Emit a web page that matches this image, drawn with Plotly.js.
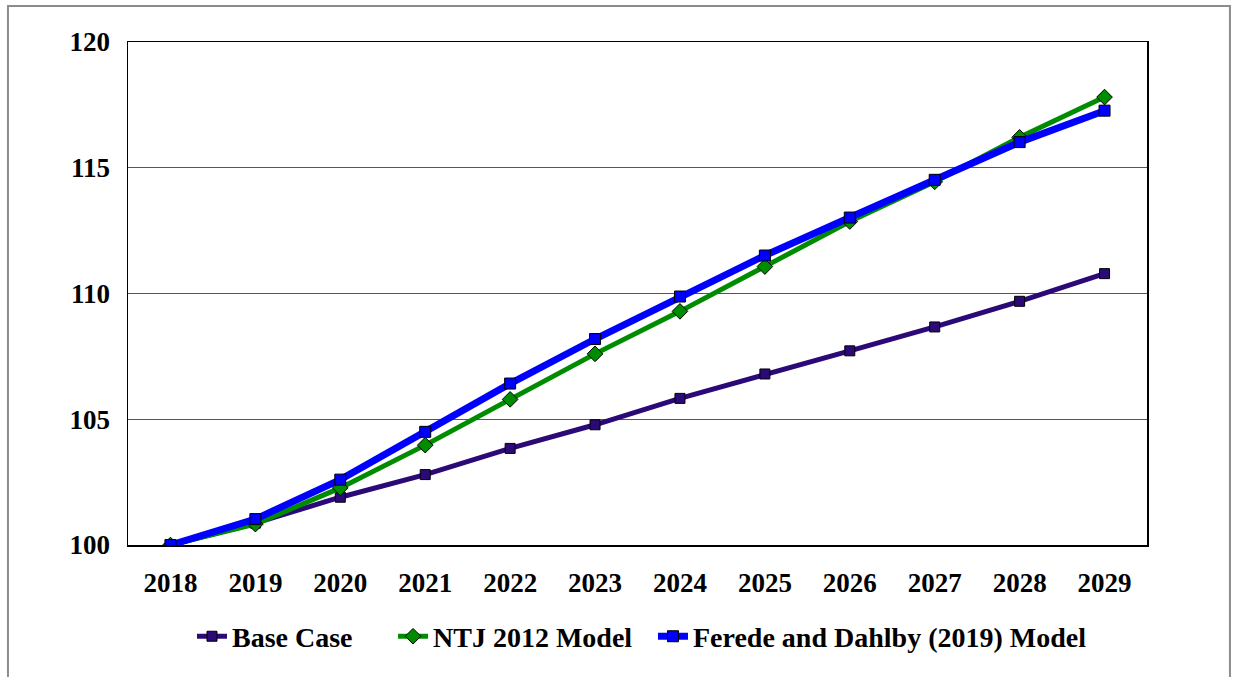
<!DOCTYPE html>
<html>
<head>
<meta charset="utf-8">
<script src="https://cdn.plot.ly/plotly-3.0.1.min.js"></script>
<style>
  html, body { margin: 0; padding: 0; background: #ffffff; }
  #chart { width: 1233px; height: 677px; }
</style>
</head>
<body>
<div id="chart"></div>
<script>
const years = ['2018','2019','2020','2021','2022','2023','2024','2025','2026','2027','2028','2029'];
const baseCase = [100, 100.87, 101.9, 102.8, 103.84, 104.78, 105.83, 106.8, 107.72, 108.67, 109.69, 110.79];
const ntj2012 = [100, 100.83, 102.27, 103.97, 105.79, 107.6, 109.29, 111.07, 112.86, 114.44, 116.21, 117.81];
const ferede2019 = [100, 101.03, 102.6, 104.5, 106.42, 108.19, 109.88, 111.51, 113.02, 114.52, 116.02, 117.27];
const yTicks = [100, 105, 110, 115, 120];

const fontFam = '"Liberation Serif", "Times New Roman", serif';
const legFont = { family: fontFam, size: 28, color: '#000000', weight: 'bold' };

const traces = [
  {
    x: years, y: baseCase, name: 'Base Case', type: 'scatter', mode: 'lines+markers', legend: 'legend',
    line: { color: '#2B0A78', width: 5 },
    marker: { symbol: 'square', size: 10, color: '#2B0A78', line: { color: '#000000', width: 1 } }
  },
  {
    x: years, y: ntj2012, name: 'NTJ 2012 Model', type: 'scatter', mode: 'lines+markers', legend: 'legend2',
    line: { color: '#008C00', width: 5 },
    marker: { symbol: 'diamond', size: 12, color: '#008C00', line: { color: '#000000', width: 1 } }
  },
  {
    x: years, y: ferede2019, name: 'Ferede and Dahlby (2019) Model', type: 'scatter', mode: 'lines+markers', legend: 'legend3',
    line: { color: '#0000FF', width: 7 },
    marker: { symbol: 'square', size: 11, color: '#0000FF', line: { color: '#000000', width: 1 } }
  }
];

function leg(x) {
  return { orientation: 'h', x: x, xanchor: 'left', y: -0.182, yanchor: 'middle', font: legFont, bgcolor: 'rgba(0,0,0,0)' };
}

const layout = {
  width: 1233, height: 677,
  margin: { l: 128, r: 86, t: 42, b: 132 },
  paper_bgcolor: '#ffffff', plot_bgcolor: '#ffffff',
  font: { family: fontFam, size: 27, color: '#000000', weight: 'bold' },
  showlegend: true,
  legend: leg(0.0628),
  legend2: leg(0.2601),
  legend3: leg(0.5152),
  xaxis: {
    type: 'category', range: [-0.5, 11.5],
    showgrid: false, zeroline: false,
    showline: true, linecolor: '#000000', linewidth: 1.5, mirror: true,
    ticks: '', ticklabelstandoff: 13,
    tickfont: { family: fontFam, size: 27, color: '#000000', weight: 'bold' }
  },
  yaxis: {
    range: [100, 120], tickvals: yTicks, ticktext: yTicks.map(String),
    showgrid: true, gridcolor: '#555555', gridwidth: 1,
    zeroline: false, showline: true, linecolor: '#000000', linewidth: 1.5, mirror: true,
    ticks: '', ticklabelstandoff: 11,
    tickfont: { family: fontFam, size: 27, color: '#000000', weight: 'bold' }
  },
  yaxis2: {
    overlaying: 'y', side: 'right', range: [100, 120], tickvals: yTicks,
    showticklabels: false, showgrid: false, zeroline: false, showline: false,
    ticks: 'outside', ticklen: 5, tickcolor: '#555555', tickwidth: 1
  },
  shapes: [
    {
      type: 'rect', xref: 'paper', yref: 'paper',
      x0: -0.1178, x1: 1.0814, y0: -0.4, y1: 1.0717,
      line: { color: '#8C8C8C', width: 2 }, fillcolor: 'rgba(0,0,0,0)', layer: 'below'
    }
  ]
};

Plotly.newPlot('chart', traces, layout, { displayModeBar: false, staticPlot: true });
</script>
</body>
</html>
